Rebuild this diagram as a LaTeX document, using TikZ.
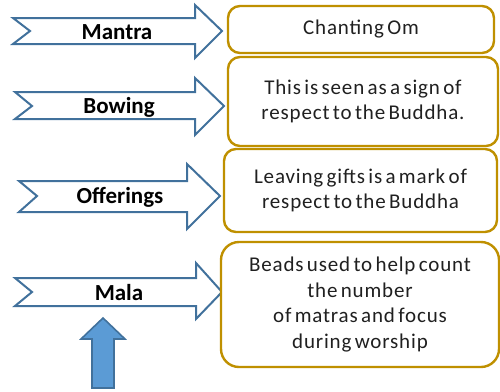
\documentclass[tikz,border=0pt]{standalone}
\usepackage{fontspec}
\setmainfont{Carlito}
\newfontfamily\boxfont[LetterSpace=4,WordSpace=0.6]{Carlito}
\definecolor{arrowline}{HTML}{41719C}
\definecolor{upfill}{HTML}{5B9BD5}
\definecolor{boxline}{HTML}{BF9000}
\definecolor{boxtext}{HTML}{202020}
\begin{document}
\begin{tikzpicture}[x=1pt,y=-1pt,
  chevron/.style={draw=arrowline,line width=2pt,fill=white,line join=miter},
  label/.style={font=\fontsize{23}{26}\selectfont\bfseries,text=black,inner sep=0pt},
  infobox/.style={draw=boxline,line width=2.4pt,rounded corners=12pt,fill=white,
    align=center,text=boxtext,font=\boxfont\fontsize{21}{24.5}\selectfont,inner sep=0pt},
  uparrow/.style={draw=arrowline,line width=1.6pt,fill=upfill,line join=miter}]
\useasboundingbox (0,0) rectangle (500,391);
% chevron arrows
\draw[chevron] (13,18) -- (195,18) -- (195,5) -- (222,31) -- (195,58) -- (195,44) -- (13,44) -- (30,31) -- cycle;
\draw[chevron] (15,92) -- (195,92) -- (195,78) -- (224,106) -- (195,135) -- (195,119) -- (15,119) -- (32,106) -- cycle;
\draw[chevron] (19,181) -- (187,181) -- (187,164) -- (220,196) -- (187,229) -- (187,212) -- (19,212) -- (37,196) -- cycle;
\draw[chevron] (15,278) -- (196,278) -- (196,263) -- (222,292) -- (196,319) -- (196,306) -- (15,306) -- (32,292) -- cycle;
\node[label] (mantra) at (117,32) {Mantra};
\node[label] (bowing) at (119,107) {Bowing};
\node[label] (offerings) at (120,197) {Offerings};
\node[label] (mala) at (119,293) {Mala};
% up arrow
\draw[uparrow] (103,318) -- (125,339) -- (114,339) -- (114,388) -- (92,388) -- (92,339) -- (81,339) -- cycle;
% boxes
\node[infobox,minimum width=266pt,minimum height=47pt] (b1) at (361,29.5) {Chanting Om};
\node[infobox,minimum width=270pt,minimum height=89pt] (b2) at (363,101.5) {This is seen as a sign of\\respect to the Buddha.};
\node[infobox,minimum width=273pt,minimum height=83pt] (b3) at (360.5,190.5) {Leaving gifts is a mark of\\respect to the Buddha};
\node[infobox,minimum width=278pt,minimum height=125pt,rounded corners=18pt,font=\boxfont\fontsize{21}{25.5}\selectfont] (b4) at (360,304.5) {Beads used to help count\\the number\\of matras and focus\\during worship};
\end{tikzpicture}
\end{document}
